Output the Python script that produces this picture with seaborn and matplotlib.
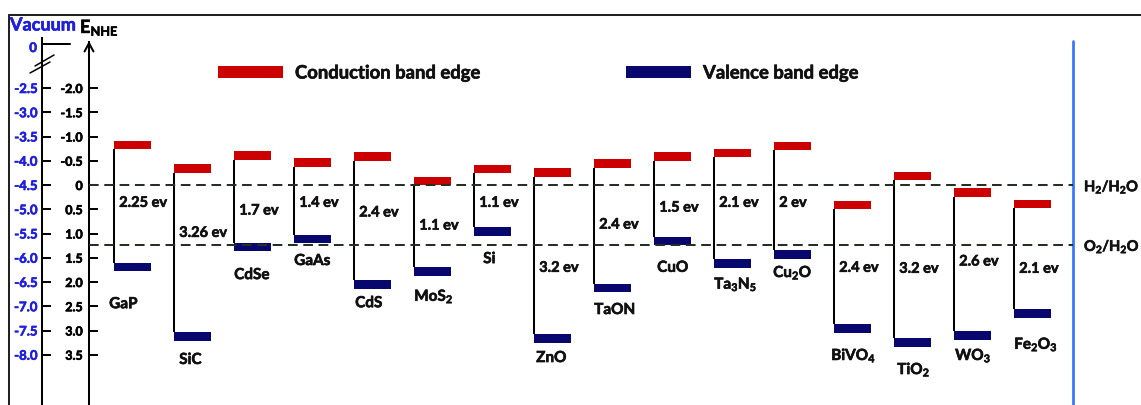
import matplotlib
matplotlib.use("Agg")
import matplotlib.pyplot as plt
import seaborn as sns
from matplotlib import font_manager as fm
from matplotlib import patheffects
from matplotlib.lines import Line2D
from matplotlib.patches import Patch

# ---------------------------------------------------------------- data
materials = ["GaP", "SiC", "CdSe", "GaAs", "CdS", "MoS$_2$", "Si", "ZnO", "TaON", "CuO",
             "Ta$_3$N$_5$", "Cu$_2$O", "BiVO$_4$", "TiO$_2$", "WO$_3$", "Fe$_2$O$_3$"]
# band edges vs NHE (V)
cb_edge = [-0.74, -0.25, -0.52, -0.38, -0.50, 0.00, -0.24, -0.17, -0.36, -0.50,
           -0.57, -0.72, 0.50, -0.10, 0.24, 0.48]
vb_edge = [1.60, 3.04, 1.19, 1.03, 1.96, 1.70, 0.87, 3.08, 2.04, 1.07,
           1.53, 1.35, 2.87, 3.16, 3.02, 2.56]
gap_text = ["2.25 ev", "3.26 ev", "1.7 ev", "1.4 ev", "2.4 ev", "1.1 ev", "1.1 ev", "3.2 ev",
            "2.4 ev", "1.5 ev", "2.1 ev", "2 ev", "2.4 ev", "3.2 ev", "2.6 ev", "2.1 ev"]

nhe_ticks = [-2.0, -1.5, -1.0, -0.5, 0.0, 0.5, 1.0, 1.5, 2.0, 2.5, 3.0, 3.5]
nhe_labels = ["-2.0", "-1.5", "-1.0", "-0.5", "0", "0.5", "1.0", "1.5", "2.0", "2.5", "3.0", "3.5"]
vac_ticks = [-2.5, -3.0, -3.5, -4.0, -4.5, -5.0, -5.5, -6.0, -6.5, -7.0, -7.5, -8.0]
vac_labels = ["-2.5", "-3.0", "-3.5", "-4.0", "-4.5", "-5.0", "-5.5", "-6.0", "-6.5", "-7.0", "-7.5", "-8.0"]
VAC_OFFSET = -4.5  # E_vac = -4.5 - E_NHE

redox_potentials = [0.0, 1.23]
redox_labels = ["H$_2$/H$_2$O", "O$_2$/H$_2$O"]

legend_labels = ["Conduction band edge", "Valence band edge"]

# ---------------------------------------------------------------- layout
gap_label_y = [0.45, 1.07, 0.61, 0.45, 0.65, 0.92, 0.45, 1.79, 0.90, 0.55,
               0.45, 0.45, 1.79, 1.81, 1.66, 1.81]
name_label_y = [2.54, 3.69, 1.94, 1.65, 2.52, 2.39, 1.61, 3.65, 2.66, 1.79,
                2.14, 1.90, 3.61, 3.90, 3.61, 3.38]
name_dx_px = [-5, 5, 0, 0, 1, 0, 9, 2, 0, 3, 0, -1, -3, 3, 1, 0]

W, H = 1141, 405
AX_LEFT = 89          # E_NHE axis position (px)
VAC_AXIS = 42         # vacuum axis position (px)
FRAME_X, FRAME_Y = 9, 15
SEP_X = 1073          # blue separator (px)
X_FIRST, X_STEP = 114.2, 60.0
Y_ZERO, Y_PER_V = 185.0, 48.5
BAR_W = 36.5 / X_STEP
BAR_H = 8.5 / Y_PER_V

RED = "#cc0000"
NAVY = "#07076e"
BLUE_TXT = "#1f1fdc"
SEP_BLUE = "#2f74ff"
DASH_C = "#243024"
INK = "#111111"
LW = 1.45

FS_TICK, FS_VAC_TICK = 9, 9.5
FS_GAP, FS_NAME, FS_REDOX = 10.5, 11, 10.5
FS_LEG, FS_HEAD = 13.3, 13


def px2v(y):
    return (y - Y_ZERO) / Y_PER_V


def px2x(x):
    return (x - X_FIRST) / X_STEP


def bold_family(candidates):
    """First family in the list that ships a full bold (700+) upright face."""
    for fam in candidates:
        for f in fm.fontManager.ttflist:
            w = f.weight
            if isinstance(w, str):
                w = fm.weight_dict.get(w, 400)
            if f.name == fam and 700 <= w <= 800 and f.style == "normal":
                return fam
    return "DejaVu Sans"


def heavy(txt, color):
    txt.set_path_effects([patheffects.withStroke(linewidth=0.45, foreground=color)])
    return txt


FAMILY = bold_family(["Lato", "Noto Sans", "Open Sans", "Roboto", "Liberation Sans"])

sns.set_theme(style="white")
plt.rcParams["font.family"] = [FAMILY, "DejaVu Sans"]
plt.rcParams["font.weight"] = "bold"
plt.rcParams["mathtext.fontset"] = "custom"
plt.rcParams["mathtext.bf"] = f"{FAMILY}:bold"
plt.rcParams["mathtext.rm"] = f"{FAMILY}:bold"
plt.rcParams["mathtext.it"] = f"{FAMILY}:bold"
plt.rcParams["mathtext.default"] = "bf"
plt.rcParams["axes.unicode_minus"] = False

fig = plt.figure(figsize=(W / 100, H / 100), dpi=100)
fig.patch.set_facecolor("white")

ax = fig.add_axes([AX_LEFT / W, 0, 1 - AX_LEFT / W, 1])
ax.set_facecolor("none")
ax.set_xlim(px2x(AX_LEFT), px2x(W))
ax.set_ylim(px2v(H), px2v(0))

for side in ("top", "right", "bottom"):
    ax.spines[side].set_visible(False)
ax.spines["left"].set_color("black")
ax.spines["left"].set_linewidth(LW)
ax.spines["left"].set_bounds(px2v(42), px2v(H))
ax.set_xticks([])
ax.set_yticks(nhe_ticks, nhe_labels)
ax.tick_params(axis="y", direction="in", length=6.5, width=LW, pad=4.5,
               labelsize=FS_TICK, color="black", labelcolor="black", left=True)
for lbl in ax.get_yticklabels():
    lbl.set_fontweight("bold")
    heavy(lbl, "black")

# arrow head on the E_NHE axis
ax.annotate("", xy=(0, px2v(41)), xytext=(0, px2v(60)),
            xycoords=("axes fraction", "data"), textcoords=("axes fraction", "data"),
            arrowprops=dict(arrowstyle="->,head_length=0.6,head_width=0.32",
                            lw=LW, color="black", shrinkA=0, shrinkB=0,
                            mutation_scale=10))

# vacuum scale as a secondary axis
vac = ax.secondary_yaxis((VAC_AXIS - AX_LEFT) / (W - AX_LEFT),
                         functions=(lambda e: VAC_OFFSET - e, lambda v: VAC_OFFSET - v))
vac.set_yticks(vac_ticks, vac_labels)
vac.tick_params(direction="in", length=6.5, width=LW, pad=3.2, labelsize=FS_VAC_TICK,
                color="black", labelcolor=BLUE_TXT)
for lbl in vac.get_yticklabels():
    lbl.set_fontweight("bold")
    heavy(lbl, BLUE_TXT)
vac.spines["left"].set_linewidth(LW)
vac.spines["left"].set_color("black")
vac.spines["left"].set_bounds(VAC_OFFSET - px2v(H), VAC_OFFSET - px2v(38))

# redox levels and separator
for p in redox_potentials:
    ax.axhline(p, xmin=0, xmax=(SEP_X - AX_LEFT) / (W - AX_LEFT), color=DASH_C,
               lw=LW, linestyle=(0, (4.8, 2.8)), zorder=5)
ax.axvline(px2x(SEP_X), ymin=0, ymax=1 - 41 / H, color=SEP_BLUE, lw=1.9, zorder=4)
for p, lab in zip(redox_potentials, redox_labels):
    heavy(ax.text(px2x(1084), p + 0.13, lab, ha="left", va="baseline", fontsize=FS_REDOX,
                  color=INK, fontweight="bold"), INK)

# band edges
xs = list(range(len(materials)))
cb_bottom = [c - BAR_H for c in cb_edge]
ax.vlines(xs, cb_edge, vb_edge, color="black", lw=LW, zorder=2)
ax.bar(xs, [BAR_H] * len(xs), bottom=cb_bottom, width=BAR_W, align="edge",
       color=RED, edgecolor="none", zorder=3)
ax.bar(xs, [BAR_H] * len(xs), bottom=vb_edge, width=BAR_W, align="edge",
       color=NAVY, edgecolor="none", zorder=3)

for i, (g, gy, name, ny, dx) in enumerate(zip(gap_text, gap_label_y, materials,
                                               name_label_y, name_dx_px)):
    heavy(ax.text(i + 5 / X_STEP, gy, g, ha="left", va="baseline", fontsize=FS_GAP,
                  color=INK, fontweight="bold", zorder=6), INK)
    heavy(ax.text(i + dx / X_STEP, ny, name, ha="left", va="baseline", fontsize=FS_NAME,
                  color=INK, fontweight="bold", zorder=6), INK)

# legend
handles = [Patch(facecolor=RED, edgecolor="none"), Patch(facecolor=NAVY, edgecolor="none")]
px_per_em = FS_LEG * 100 / 72
leg = fig.legend(handles, legend_labels, ncol=2, loc="center left",
                 bbox_to_anchor=(218 / W, 1 - 73 / H), bbox_transform=fig.transFigure,
                 frameon=False, borderpad=0, borderaxespad=0,
                 handlelength=65 / px_per_em, handleheight=12 / px_per_em,
                 handletextpad=12 / px_per_em, columnspacing=145 / px_per_em,
                 prop={"family": FAMILY, "weight": "bold", "size": FS_LEG})
for t in leg.get_texts():
    t.set_color(INK)
    heavy(t, INK)


# frame, axis break and headings in figure pixels
def fig_line(x0, y0, x1, y1, **kw):
    fig.add_artist(Line2D([x0 / W, x1 / W], [1 - y0 / H, 1 - y1 / H],
                          transform=fig.transFigure, **kw))


fig_line(FRAME_X, FRAME_Y, W, FRAME_Y, color="#222222", lw=LW)
fig_line(FRAME_X, FRAME_Y, FRAME_X, H, color="#222222", lw=LW)
fig_line(VAC_AXIS, 44, 70, 44, color="black", lw=LW)
fig_line(35, 66, 54, 55, color="black", lw=1.1)
fig_line(30, 73, 50, 62, color="black", lw=1.1)

heavy(fig.text(37 / W, 1 - 52 / H, "0", ha="right", va="baseline", fontsize=FS_VAC_TICK,
               color=BLUE_TXT, fontweight="bold"), BLUE_TXT)
heavy(fig.text(10 / W, 1 - 30.5 / H, "Vacuum", ha="left", va="baseline", fontsize=FS_HEAD,
               color=BLUE_TXT, fontweight="bold"), BLUE_TXT)
heavy(fig.text(80 / W, 1 - 33 / H, r"$E_{NHE}$", ha="left", va="baseline", fontsize=13,
               color="black"), "black")

fig.savefig("out.png", dpi=100, facecolor="white")
